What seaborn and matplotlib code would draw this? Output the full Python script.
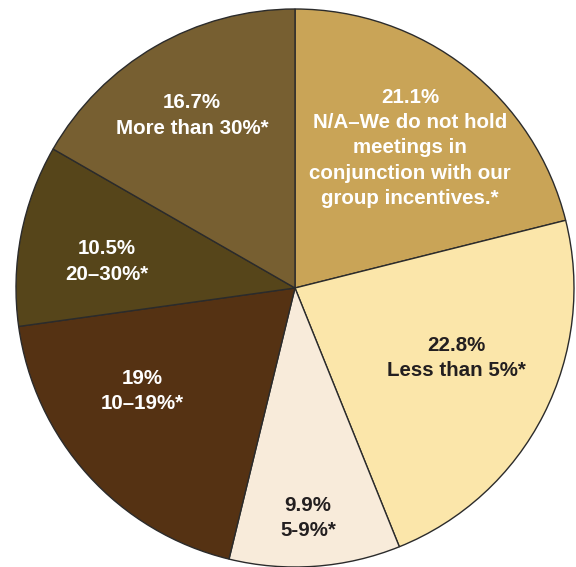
import numpy as np
import matplotlib
matplotlib.use("Agg")
import matplotlib.pyplot as plt
import seaborn as sns

# Share of meeting spend tied to group incentives
categories = [
    "N/A\u2013We do not hold\nmeetings in\nconjunction with our\ngroup incentives.*",
    "Less than 5%*",
    "5-9%*",
    "10\u201319%*",
    "20\u201330%*",
    "More than 30%*",
]
shares = [21.1, 22.8, 9.9, 19, 10.5, 16.7]
share_labels = ["21.1%", "22.8%", "9.9%", "19%", "10.5%", "16.7%"]

colors = ["#C9A457", "#FBE6AA", "#F8EBDA", "#553213", "#56451A", "#775F31"]
text_colors = ["white", "#231F20", "#231F20", "white", "white", "white"]
# label placement: (radius fraction, angle in degrees)
label_pos = [(0.65, 50.6), (0.63, -23.4), (0.825, -86.8), (0.66, -146.0), (0.68, 172.0), (0.72, 120.8)]

sns.set_theme(style="white")
plt.rcParams["font.family"] = ["Liberation Sans", "DejaVu Sans"]

W, H = 576, 567
fig = plt.figure(figsize=(W / 100, H / 100), dpi=100)
ax = fig.add_axes([0, 0, 1, 1])
ax.pie(
    shares,
    colors=sns.color_palette(colors),
    startangle=90,
    counterclock=False,
    radius=1.0,
    wedgeprops=dict(edgecolor="#2B2B2B", linewidth=1.0),
)

cx, cy, R = 295, 288, 279
ax.set_xlim(-cx / R, (W - cx) / R)
ax.set_ylim(-(H - cy) / R, cy / R)
ax.set_aspect("equal")
ax.axis("off")

for lab, cat, tc, (r, ang) in zip(share_labels, categories, text_colors, label_pos):
    a = np.deg2rad(ang)
    ax.text(r * np.cos(a), r * np.sin(a), f"{lab}\n{cat}", ha="center", va="center",
            color=tc, fontsize=14.8, fontweight="bold", linespacing=1.42)

fig.savefig("out.png", dpi=100)
